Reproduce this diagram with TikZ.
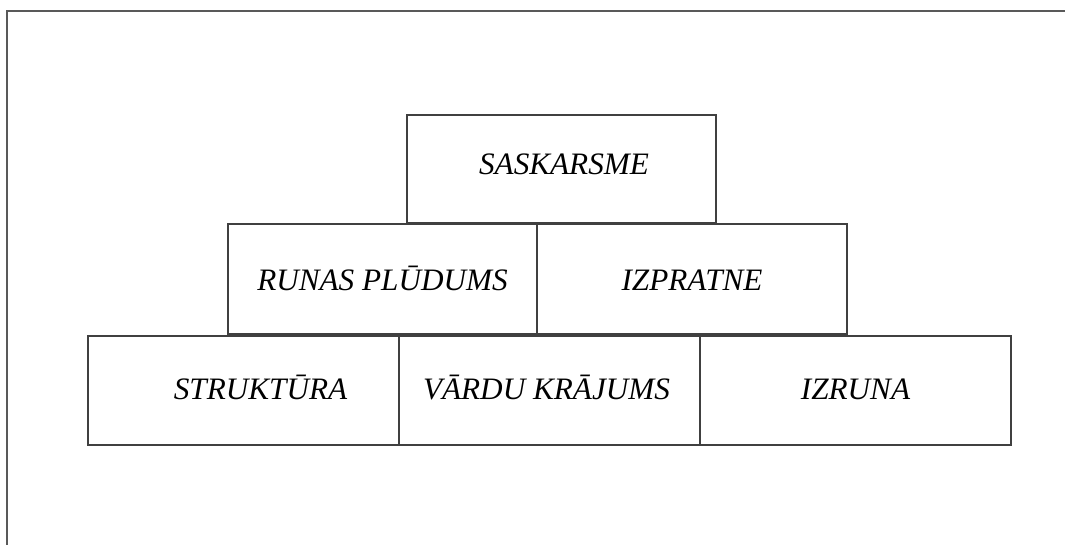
\documentclass[tikz,border=0pt]{standalone}
\usepackage{fontspec}
\setmainfont{Liberation Serif}
\begin{document}
\begin{tikzpicture}[x=1pt,y=-1pt,
  brick/.style={draw=black!75, line width=1.3pt, minimum width=#1, inner sep=0pt, outer sep=0pt},
  brick/.default=309pt,
  lbl/.style={anchor=base, inner sep=0pt, font=\fontsize{31.2}{37}\selectfont\itshape},
  frameline/.style={draw=black!65, line width=2pt}]
\useasboundingbox (0,0) rectangle (1065,544);
\draw[frameline] (1066,11) -- (7,11) -- (7,545);
% row 1
\node[brick=309pt, minimum height=108pt] (b1) at (561.5,169) {};
% row 2
\node[brick=309pt, minimum height=110pt] (b2) at (382.5,279) {};
\node[brick=310pt, minimum height=110pt] (b3) at (692,279) {};
% row 3
\node[brick=311pt, minimum height=109pt] (b4) at (243.5,390.5) {};
\node[brick=301pt, minimum height=109pt] (b5) at (549.5,390.5) {};
\node[brick=311pt, minimum height=109pt] (b6) at (855.5,390.5) {};
% labels
\node[lbl] (t1) at (564,174) {SASKARSME};
\node[lbl] (t2) at (382.5,290) {RUNAS PLŪDUMS};
\node[lbl] (t3) at (692,290) {IZPRATNE};
\node[lbl] (t4) at (260.5,399) {STRUKTŪRA};
\node[lbl] (t5) at (546.5,399) {VĀRDU KRĀJUMS};
\node[lbl] (t6) at (855.5,399) {IZRUNA};
\end{tikzpicture}
\end{document}
